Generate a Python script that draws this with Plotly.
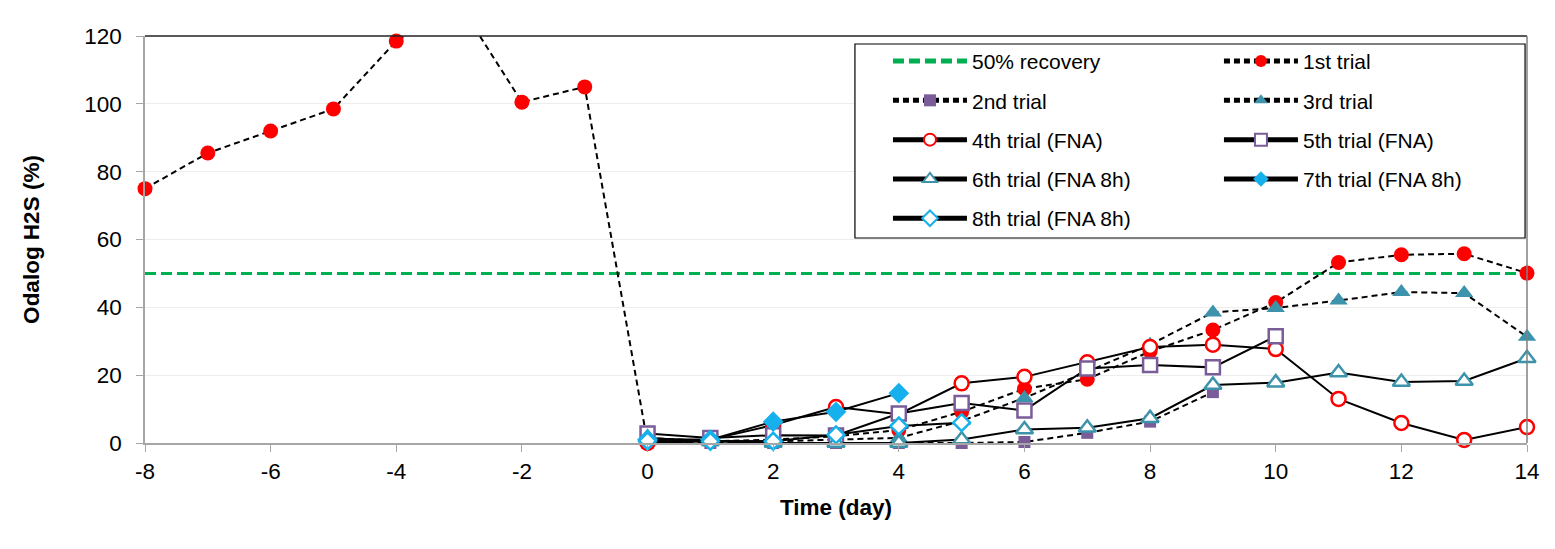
import plotly.graph_objects as go

# ---- data ----
days_pre = [-8, -7, -6, -5, -4, -3, -2, -1]
days_0_14 = list(range(0, 15))

trial1_pre = [75, 85.5, 92, 98.5, 118.5, 129.6, 100.5, 105]
trial1_post = [0, 0.5, 1, 2, 3.8, 9.2, 16, 18.8, 27, 33.3, 41.4, 53.2, 55.5, 55.8, 50.1]

trial2_days = list(range(0, 10))
trial2 = [0, 0, 0, 0, 0, 0, 0.3, 3, 6.3, 15]

trial3 = [1.5, 0.5, 0.5, 1, 1.5, 6.5, 13.3, 21, 29, 38.5, 39.8, 42, 44.5, 44.2, 31.3]

trial4 = [0, 1, 5.3, 10.6, 8.5, 17.6, 19.5, 23.8, 28.3, 29, 27.7, 13, 5.9, 0.9, 4.7]

trial5_days = list(range(0, 11))
trial5 = [2.8, 1.5, 2.3, 2.2, 8.7, 11.8, 9.6, 22, 23, 22.3, 31.5]

trial6 = [1.5, 0.5, 0, 0, 0, 1, 4, 4.5, 7.3, 17.1, 17.8, 20.8, 18, 18.3, 25]

trial7_days = [0, 1, 2, 3, 4]
trial7 = [1, 1, 6.3, 9.2, 14.7]

trial8_days = [0, 1, 2, 3, 4, 5]
trial8 = [0.6, 0.5, 0.5, 2.4, 5, 6]

recovery_x = [-8, 14]
recovery_y = [50, 50]

x_ticks = list(range(-8, 15, 2))
y_ticks = list(range(0, 121, 20))
Y_MAX = 120
X_MIN, X_MAX = -8, 14

RED = "#ff0000"
PURPLE = "#7a5c98"
TEAL = "#3d93ab"
BLUE = "#16b1ec"
GREEN = "#00b050"
FONT = "Liberation Sans, Arial, sans-serif"
BLACK_DASH = "6px,4px"
GREEN_DASH = "11px,5px"

fig = go.Figure()

def add(x, y, name, dash, marker, legend, group):
    fig.add_trace(go.Scatter(
        x=x, y=y, mode="lines+markers" if marker else "lines", name=name,
        line=dict(color="black" if marker else GREEN, width=2 if marker else 3, dash=dash),
        marker=marker, cliponaxis=False if marker else True,
        legend=legend, legendgroup=group,
    ))

add(recovery_x, recovery_y, "50% recovery", GREEN_DASH, None, "legend", "g0")

t1x = days_pre + days_0_14
t1y = trial1_pre + trial1_post
add(t1x, t1y, "1st trial", BLACK_DASH,
    dict(symbol="circle", color=RED, opacity=1,
         size=[0 if v > Y_MAX else 15 for v in t1y], line=dict(width=0)),
    "legend2", "g1")
add(trial2_days, trial2, "2nd trial", BLACK_DASH,
    dict(symbol="square", color=PURPLE, size=12, line=dict(width=0)), "legend", "g2")
add(days_0_14, trial3, "3rd trial", BLACK_DASH,
    dict(symbol="triangle-up", color=TEAL, size=16, line=dict(width=0)), "legend2", "g3")
add(days_0_14, trial4, "4th trial (FNA)", "solid",
    dict(symbol="circle", color="white", size=14, line=dict(color=RED, width=2.5)), "legend", "g4")
add(trial5_days, trial5, "5th trial (FNA)", "solid",
    dict(symbol="square", color="white", size=14, line=dict(color=PURPLE, width=2.5)), "legend2", "g5")
add(days_0_14, trial6, "6th trial (FNA 8h)", "solid",
    dict(symbol="triangle-up", color="white", size=15, line=dict(color=TEAL, width=2.5)), "legend", "g6")
add(trial7_days, trial7, "7th trial (FNA 8h)", "solid",
    dict(symbol="diamond", color=BLUE, size=16, line=dict(width=0)), "legend2", "g7")
add(trial8_days, trial8, "8th trial (FNA 8h)", "solid",
    dict(symbol="diamond", color="white", size=13, line=dict(color=BLUE, width=2.5)), "legend", "g8")

leg_common = dict(
    orientation="v", yanchor="top", xanchor="left",
    bgcolor="rgba(0,0,0,0)", borderwidth=0,
    font=dict(family=FONT, size=21, color="black"),
    itemwidth=74, tracegroupgap=9, itemsizing="constant",
)

fig.update_layout(
    width=1547, height=541,
    margin=dict(l=137, r=28, t=28, b=106),
    paper_bgcolor="white", plot_bgcolor="white",
    font=dict(family=FONT, color="black", size=21),
    showlegend=True,
    legend=dict(x=0.5376, y=0.988, **leg_common),
    legend2=dict(x=0.7771, y=0.988, **leg_common),
    xaxis=dict(
        range=[X_MIN, X_MAX], tickvals=x_ticks, ticktext=[str(v) for v in x_ticks],
        showgrid=False, zeroline=False, showline=True, linecolor="#a6a6a6", linewidth=1.5,
        ticks="outside", ticklen=7, tickcolor="#a6a6a6", tickwidth=1,
        tickfont=dict(family=FONT, size=22.5),
        title=dict(text="<b>Time (day)</b>", font=dict(family=FONT, size=22.5), standoff=16),
    ),
    yaxis=dict(
        range=[0, Y_MAX], tickvals=y_ticks, ticktext=[str(v) for v in y_ticks],
        showgrid=True, gridcolor="#ededed", gridwidth=1, zeroline=False,
        showline=True, linecolor="#a6a6a6", linewidth=1.5,
        ticks="outside", ticklen=7, tickcolor="#a6a6a6", tickwidth=1,
        ticklabelstandoff=10,
        tickfont=dict(family=FONT, size=22.5),
        title=dict(text="<b>Odalog H2S (%)</b>", font=dict(family=FONT, size=22.5), standoff=38),
    ),
    shapes=[
        dict(type="line", xref="paper", yref="paper", x0=0, x1=1, y0=1, y1=1,
             line=dict(color="#222222", width=1.5)),
        dict(type="line", xref="paper", yref="paper", x0=1, x1=1, y0=0, y1=1,
             line=dict(color="#808080", width=1.5)),
        # legend frame
        dict(type="rect", xref="paper", yref="paper", x0=0.5137, x1=0.9986, y0=0.5037, y1=0.9803,
             line=dict(color="black", width=1.2), fillcolor="white", layer="above"),
    ],
)

fig.write_html("out.html")
